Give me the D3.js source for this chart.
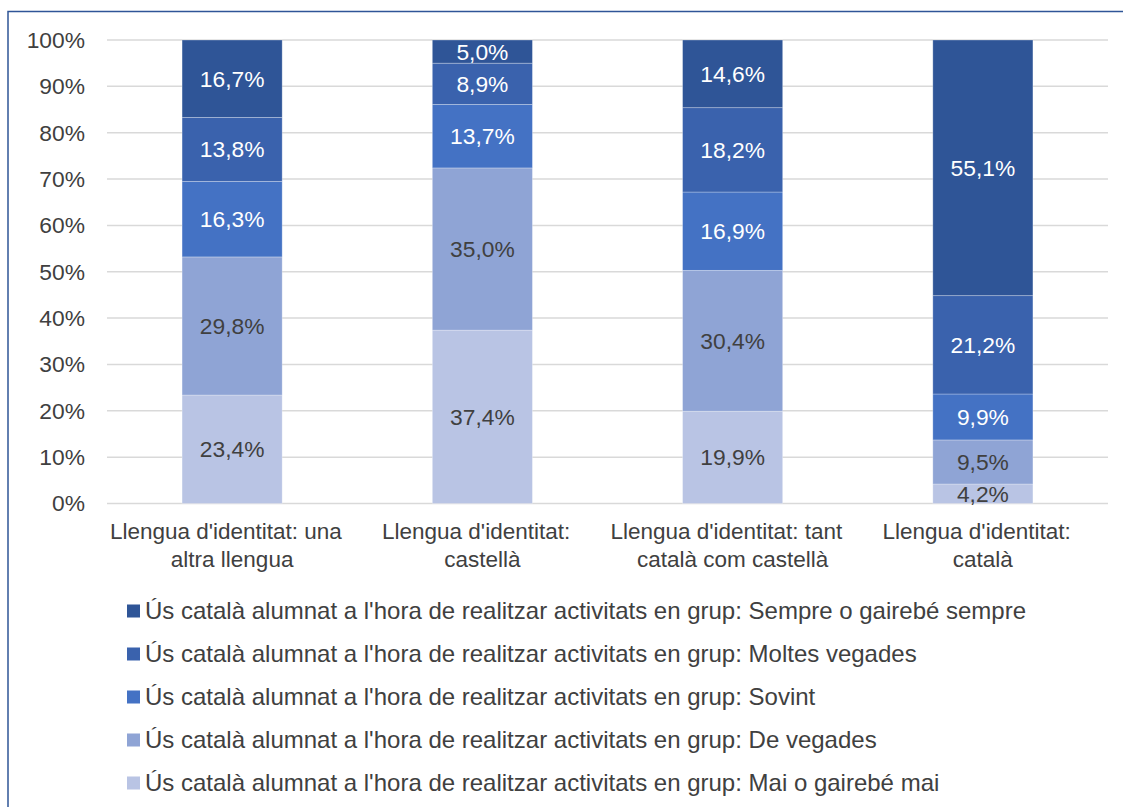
<!DOCTYPE html>
<html>
<head>
<meta charset="utf-8">
<script src="https://cdn.jsdelivr.net/npm/d3@7"></script>
<style>
  body { margin: 0; background: #fff; }
  svg { display: block; font-family: "Liberation Sans", Arial, sans-serif; }
  .cat tspan { white-space: pre; }
</style>
</head>
<body>
<svg id="chart" width="1123" height="807"></svg>
<script>
// categories (two-line labels, wrapped lines keep their trailing space)
const categories = [
  ["Llengua d'identitat: una  ", "altra llengua"],
  ["Llengua d'identitat:  ", "castellà"],
  ["Llengua d'identitat: tant  ", "català com castellà"],
  ["Llengua d'identitat:  ", "català"]
];

// series, bottom to top of the stack
const seriesNames = [
  "Ús català alumnat a l'hora de realitzar activitats en grup: Mai o gairebé mai",
  "Ús català alumnat a l'hora de realitzar activitats en grup: De vegades",
  "Ús català alumnat a l'hora de realitzar activitats en grup: Sovint",
  "Ús català alumnat a l'hora de realitzar activitats en grup: Moltes vegades",
  "Ús català alumnat a l'hora de realitzar activitats en grup: Sempre o gairebé sempre"
];
const maiValues      = [23.4, 37.4, 19.9, 4.2];
const deVegadesValues = [29.8, 35.0, 30.4, 9.5];
const sovintValues   = [16.3, 13.7, 16.9, 9.9];
const moltesValues   = [13.8, 8.9, 18.2, 21.2];
const sempreValues   = [16.7, 5.0, 14.6, 55.1];
const seriesValues = [maiValues, deVegadesValues, sovintValues, moltesValues, sempreValues];

const colors = ["#b9c4e4", "#8fa4d5", "#4472c4", "#3a62ad", "#2f5597"];
const labelColors = ["#404040", "#404040", "#ffffff", "#ffffff", "#ffffff"];

const yTicks = [0, 10, 20, 30, 40, 50, 60, 70, 80, 90, 100];

const svg = d3.select("#chart");

// frame
svg.append("path")
  .attr("d", "M8,1000 L8,11.5 L1200,11.5")
  .attr("fill", "none")
  .attr("stroke", "#2f5597")
  .attr("stroke-width", 1.5);

const plot = { left: 107, right: 1108, top: 40, bottom: 503.5 };

const x = d3.scaleBand()
  .domain(d3.range(categories.length))
  .range([plot.left, plot.right])
  .paddingInner(0.6)
  .paddingOuter(0.3);

const y = d3.scaleLinear().domain([0, 100]).range([plot.bottom, plot.top]);

// gridlines
svg.append("g").selectAll("line")
  .data(yTicks)
  .join("line")
  .attr("x1", plot.left).attr("x2", plot.right)
  .attr("y1", d => y(d)).attr("y2", d => y(d))
  .attr("stroke", "#d9d9d9")
  .attr("stroke-width", 1.5);

// y labels
svg.append("g").selectAll("text")
  .data(yTicks)
  .join("text")
  .attr("x", 85)
  .attr("y", d => y(d))
  .attr("dy", "0.35em")
  .attr("text-anchor", "end")
  .attr("font-size", 22.8)
  .attr("fill", "#404040")
  .text(d => d + "%");

// stack (100% normalised, as Excel does)
const rows = categories.map((c, i) => {
  const r = { i };
  seriesValues.forEach((s, k) => { r[k] = s[i]; });
  return r;
});
const stack = d3.stack()
  .keys(d3.range(seriesValues.length))
  .offset(d3.stackOffsetExpand);
const stacked = stack(rows);

const fmt = v => v.toFixed(1).replace(".", ",") + "%";

const layers = svg.append("g").selectAll("g")
  .data(stacked)
  .join("g")
  .attr("fill", (d, k) => colors[k]);

layers.selectAll("rect")
  .data(d => d)
  .join("rect")
  .attr("x", d => x(d.data.i))
  .attr("width", x.bandwidth())
  .attr("y", d => y(d[1] * 100))
  .attr("height", d => y(d[0] * 100) - y(d[1] * 100))
  .attr("stroke", "rgba(255,255,255,0.35)")
  .attr("stroke-width", 0.8);

layers.selectAll("text")
  .data((d, k) => d.map(p => ({ p, k })))
  .join("text")
  .attr("x", d => x(d.p.data.i) + x.bandwidth() / 2)
  .attr("y", d => y((d.p[0] + d.p[1]) / 2 * 100))
  .attr("dy", "0.35em")
  .attr("text-anchor", "middle")
  .attr("font-size", 22.8)
  .attr("fill", d => labelColors[d.k])
  .text(d => fmt(seriesValues[d.k][d.p.data.i]));

// category labels
svg.append("g").attr("class", "cat").selectAll("text")
  .data(categories)
  .join("text")
  .attr("x", (d, i) => x(i) + x.bandwidth() / 2)
  .attr("y", 531)
  .attr("text-anchor", "middle")
  .attr("font-size", 22.5)
  .attr("fill", "#404040")
  .each(function (d) {
    d3.select(this).selectAll("tspan")
      .data(d)
      .join("tspan")
      .attr("x", d3.select(this).attr("x"))
      .attr("dy", (t, j) => j === 0 ? "0.35em" : "28")
      .text(t => t);
  });

// legend, top to bottom
const legendOrder = d3.range(seriesNames.length).reverse();
const legend = svg.append("g").selectAll("g")
  .data(legendOrder)
  .join("g")
  .attr("transform", (k, j) => `translate(127, ${611 + j * 43})`);

legend.append("rect")
  .attr("x", 0).attr("y", -6.5)
  .attr("width", 13).attr("height", 13)
  .attr("fill", k => colors[k]);

legend.append("text")
  .attr("x", 18)
  .attr("dy", "0.35em")
  .attr("font-size", 24)
  .attr("fill", "#404040")
  .text(k => seriesNames[k]);
</script>
</body>
</html>
